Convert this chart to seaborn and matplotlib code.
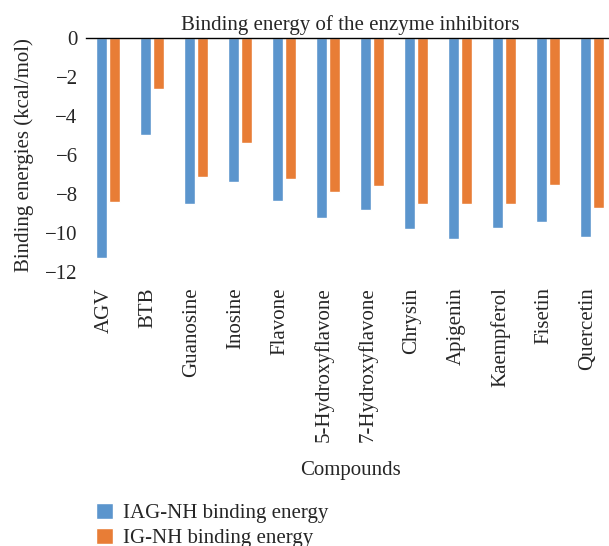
import matplotlib
matplotlib.use('Agg')
import matplotlib.pyplot as plt
import matplotlib.transforms as mtransforms
import seaborn as sns
import pandas as pd

compounds = ['AGV', 'BTB', 'Guanosine', 'Inosine', 'Flavone', '5-Hydroxyflavone',
             '7-Hydroxyflavone', 'Chrysin', 'Apigenin', 'Kaempferol', 'Fisetin', 'Quercetin']
iag_nh = [-11.28, -4.95, -8.50, -7.37, -8.35, -9.22, -8.81, -9.79, -10.30, -9.74, -9.43, -10.20]
ig_nh = [-8.40, -2.59, -7.11, -5.37, -7.22, -7.88, -7.58, -8.50, -8.50, -8.50, -7.53, -8.71]
series_names = ['IAG-NH binding energy', 'IG-NH binding energy']
yticks = [0, -2, -4, -6, -8, -10, -12]

df = pd.DataFrame({
    'Compound': compounds * 2,
    'Energy': iag_nh + ig_nh,
    'Series': [series_names[0]] * len(compounds) + [series_names[1]] * len(compounds),
})

sns.set_style('white')
plt.rcParams['font.family'] = ['Liberation Serif', 'DejaVu Serif']
plt.rcParams['font.size'] = 15

fig = plt.figure(figsize=(6.09, 5.46), dpi=100)
ax = fig.add_axes([86/609, 1 - 272/546, 528/609, 234/546])

sns.barplot(data=df, x='Compound', y='Energy', hue='Series', order=compounds,
            hue_order=series_names, palette=['#5B95CD', '#E87D36'], saturation=1,
            width=0.58, gap=0.1, errorbar=None, ax=ax, legend=True)

ax.set_ylim(-12, 0)
ax.set_yticks(yticks)
ax.set_xlim(-0.5, len(compounds) - 0.5)
for s in ['left', 'right', 'bottom']:
    ax.spines[s].set_visible(False)
ax.spines['top'].set_color('black')
ax.spines['top'].set_linewidth(1.0)
ax.tick_params(axis='both', length=0, labelsize=15)
ax.tick_params(axis='y', pad=6)
ax.tick_params(axis='x', pad=11)
shift = mtransforms.ScaledTranslation(-4/100, 0, fig.dpi_scale_trans)
for lab in ax.get_xticklabels():
    lab.set_rotation(90)
    lab.set_va('top')
    lab.set_ha('center')
    lab.set_transform(lab.get_transform() + shift)

ax.set_title('Binding energy of the enzyme inhibitors', fontsize=15, pad=6)
ax.set_ylabel('Binding energies (kcal/mol)', fontsize=15, labelpad=8)
ax.set_xlabel('Compounds', fontsize=15, labelpad=14)

handles, labels = ax.get_legend_handles_labels()
ax.get_legend().remove()
fig.legend(handles, labels, loc='upper left', bbox_to_anchor=(0.158, 0.079),
           frameon=False, handlelength=0.8, handleheight=0.8,
           handletextpad=0.5, labelspacing=0.22, borderpad=0, borderaxespad=0,
           fontsize=15)

fig.savefig('out.png', dpi=100)
